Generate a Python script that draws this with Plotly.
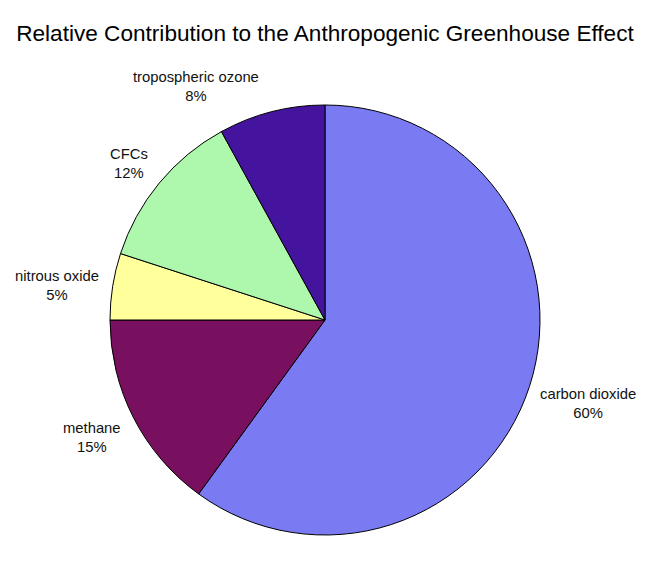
import plotly.graph_objects as go

labels = ["carbon dioxide", "methane", "nitrous oxide", "CFCs", "tropospheric ozone"]
values = [60, 15, 5, 12, 8]
colors = ["#7a7af2", "#78105f", "#ffff9c", "#aef8ae", "#45149f"]

# label anchor positions (paper coords) for the outside labels
label_pos = {
    "carbon dioxide": (1.112, 0.305),
    "methane": (-0.042, 0.226),
    "nitrous oxide": (-0.123, 0.581),
    "CFCs": (0.044, 0.865),
    "tropospheric ozone": (0.20, 1.042),
}

fig = go.Figure(go.Pie(
    labels=labels,
    values=values,
    sort=False,
    direction="clockwise",
    rotation=0,
    textinfo="none",
    hoverinfo="label+percent",
    marker=dict(colors=colors, line=dict(color="black", width=1)),
    showlegend=False,
))

annotations = []
for lab, v in zip(labels, values):
    x, y = label_pos[lab]
    annotations.append(dict(
        x=x, y=y, xref="paper", yref="paper",
        text=f"{lab}<br>{v}%", showarrow=False,
        font=dict(family="Liberation Sans, Arial, sans-serif", size=14.8, color="#111111"),
        align="center", xanchor="center", yanchor="middle",
    ))

fig.update_layout(
    width=654, height=567,
    paper_bgcolor="white", plot_bgcolor="white",
    margin=dict(l=102, r=122, t=97, b=40),
    title=dict(
        text="Relative Contribution to the Anthropogenic Greenhouse Effect",
        x=0.5, xref="paper", y=1 - 25 / 567, yref="container",
        xanchor="center", yanchor="middle",
        font=dict(family="Liberation Sans, Arial, sans-serif", size=22.6, color="black"),
    ),
    annotations=annotations,
)

fig.write_html("out.html")
